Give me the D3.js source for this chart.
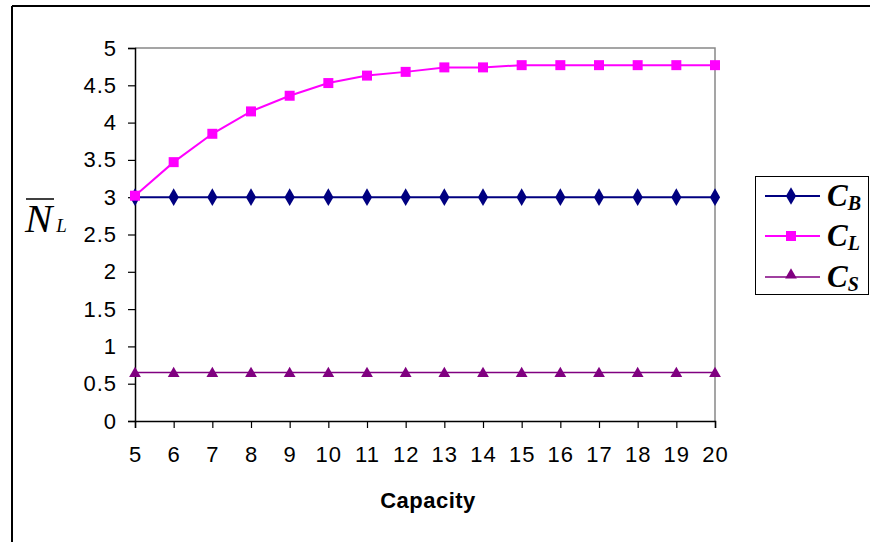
<!DOCTYPE html>
<html>
<head>
<meta charset="utf-8">
<script src="https://cdn.jsdelivr.net/npm/d3@7"></script>
<style>
  body { margin: 0; background: #fff; }
  svg { display: block; }
</style>
</head>
<body>
<div id="chart"></div>
<script>
// data
var capacity = [5, 6, 7, 8, 9, 10, 11, 12, 13, 14, 15, 16, 17, 18, 19, 20];
var cB = [3, 3, 3, 3, 3, 3, 3, 3, 3, 3, 3, 3, 3, 3, 3, 3];
var cL = [3.02, 3.47, 3.85, 4.15, 4.36, 4.53, 4.63, 4.68, 4.74, 4.74, 4.77, 4.77, 4.77, 4.77, 4.77, 4.77];
var cS = [0.65, 0.65, 0.65, 0.65, 0.65, 0.65, 0.65, 0.65, 0.65, 0.65, 0.65, 0.65, 0.65, 0.65, 0.65, 0.65];
var yTicks = [0, 0.5, 1, 1.5, 2, 2.5, 3, 3.5, 4, 4.5, 5];

var seriesNames = ["B", "L", "S"];
var seriesValues = [cB, cL, cS];
var seriesColors = ["#000080", "#ff00ff", "#800080"];
var seriesShapes = [d3.symbolDiamond, d3.symbolSquare, d3.symbolTriangle];
var seriesSizes = [90, 100, 60];
var lineWidths = [2, 2, 1.3];

var W = 870, H = 542;
var plot = { left: 135, top: 48, right: 715, bottom: 421 };

var svg = d3.select("#chart").append("svg")
    .attr("width", W)
    .attr("height", H);

// outer frame (only top and left visible)
svg.append("line").attr("x1", 12).attr("y1", 6).attr("x2", W).attr("y2", 6)
    .attr("stroke", "#000").attr("stroke-width", 2);
svg.append("line").attr("x1", 12).attr("y1", 6).attr("x2", 12).attr("y2", H)
    .attr("stroke", "#000").attr("stroke-width", 2);

var x = d3.scaleLinear().domain([5, 20]).range([plot.left, plot.right]);
var y = d3.scaleLinear().domain([0, 5]).range([plot.bottom, plot.top]);

// grey top/right border of plot area
svg.append("path")
    .attr("d", "M" + plot.left + "," + plot.top + "H" + plot.right + "V" + plot.bottom)
    .attr("fill", "none").attr("stroke", "#888").attr("stroke-width", 1.5);

// axes
var yAxis = svg.append("g")
    .attr("transform", "translate(" + plot.left + ",0)")
    .call(d3.axisLeft(y).tickValues(yTicks).tickSize(7).tickPadding(11).tickFormat(d3.format("")));
var xAxis = svg.append("g")
    .attr("transform", "translate(0," + plot.bottom + ")")
    .call(d3.axisBottom(x).tickValues(capacity).tickSize(7).tickPadding(18).tickFormat(d3.format("d")));

[xAxis, yAxis].forEach(function (g) {
    g.select(".domain").attr("stroke", "#000").attr("stroke-width", 1.5);
    g.selectAll(".tick line").attr("stroke", "#000").attr("stroke-width", 1.2);
    g.selectAll(".tick text")
        .attr("fill", "#000")
        .style("font-family", "Arial, 'Liberation Sans', sans-serif")
        .style("font-size", "22px")
        .style("letter-spacing", "1px");
});

// series
var line = d3.line()
    .x(function (d, i) { return x(capacity[i]); })
    .y(function (d) { return y(d); });

seriesValues.forEach(function (vals, k) {
    svg.append("path")
        .datum(vals)
        .attr("d", line)
        .attr("fill", "none")
        .attr("stroke", seriesColors[k])
        .attr("stroke-width", lineWidths[k]);
});
// draw markers after all lines (CL markers on top)
[0, 2, 1].forEach(function (k) {
    svg.selectAll(".m" + k)
        .data(seriesValues[k])
        .enter().append("path")
        .attr("class", "m" + k)
        .attr("transform", function (d, i) {
            var yy = y(d) + (k === 2 ? 1 : 0);
            return "translate(" + x(capacity[i]) + "," + yy + ")";
        })
        .attr("d", d3.symbol().type(seriesShapes[k]).size(seriesSizes[k]))
        .attr("fill", seriesColors[k]);
});

// x axis title
svg.append("text")
    .attr("x", 428).attr("y", 508)
    .attr("text-anchor", "middle")
    .style("font-family", "Arial, 'Liberation Sans', sans-serif")
    .style("font-size", "22px")
    .style("font-weight", "bold")
    .style("letter-spacing", "0.5px")
    .text("Capacity");

// y axis title: N-bar subscript L
var yt = svg.append("text")
    .attr("x", 25).attr("y", 232)
    .style("font-family", "'Liberation Serif', 'Times New Roman', serif")
    .style("font-style", "italic")
    .style("font-size", "41px");
yt.append("tspan").text("N");
yt.append("tspan").attr("dx", 4).style("font-size", "19px").text("L");
svg.append("line").attr("x1", 26).attr("x2", 54).attr("y1", 199).attr("y2", 199)
    .attr("stroke", "#000").attr("stroke-width", 1.5);

// legend
var lg = svg.append("g");
lg.append("rect")
    .attr("x", 755.5).attr("y", 176.5).attr("width", 113).attr("height", 118)
    .attr("fill", "#fff").attr("stroke", "#000").attr("stroke-width", 1);

var legendY = [196, 236, 277];
seriesNames.forEach(function (name, k) {
    var ly = legendY[k];
    lg.append("line")
        .attr("x1", 765).attr("x2", 820).attr("y1", ly).attr("y2", ly)
        .attr("stroke", seriesColors[k]).attr("stroke-width", lineWidths[k]);
    lg.append("path")
        .attr("transform", "translate(791," + (ly + (k === 2 ? -2 : 0)) + ")")
        .attr("d", d3.symbol().type(seriesShapes[k]).size(seriesSizes[k]))
        .attr("fill", seriesColors[k]);
    var t = lg.append("text")
        .attr("x", 827).attr("y", ly + 10)
        .style("font-family", "'Liberation Serif', 'Times New Roman', serif")
        .style("font-style", "italic")
        .style("font-weight", "bold")
        .style("font-size", "31px");
    t.append("tspan").text("C");
    t.append("tspan").attr("dy", 4).style("font-size", "20px").text(name);
});
</script>
</body>
</html>
